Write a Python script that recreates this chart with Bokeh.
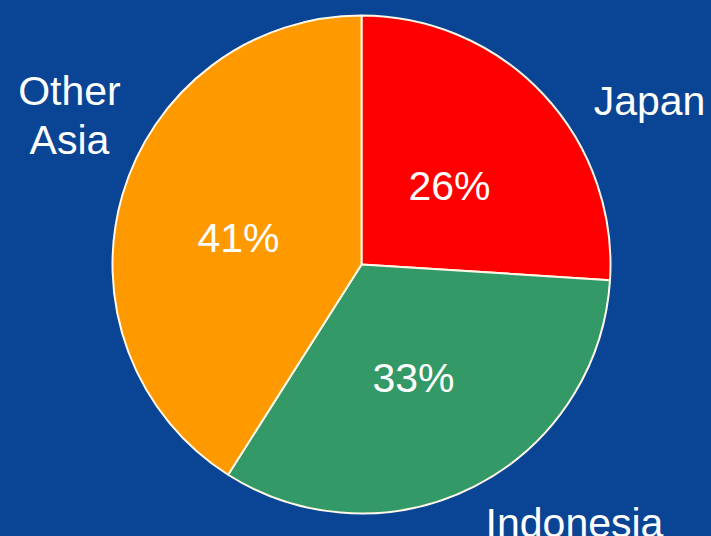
import math
from bokeh.plotting import figure
from bokeh.models import ColumnDataSource, Range1d
from bokeh.core.properties import value
from bokeh.embed import file_html
from bokeh.resources import INLINE

# ---- data ----
regions = ["Japan", "Indonesia", "Other Asia"]
shares = [26, 33, 41]
colors = ["#FF0000", "#339966", "#FF9900"]
display_lines = [["Japan"], ["Indonesia"], ["Other", "Asia"]]

BG = "#0A4595"
W, H = 711, 536
CX, CY, R = 361, 536 - 264, 249
TEXT_SHIFT = 13  # renderer baseline correction (px)

# wedge angles (clockwise from 12 o'clock)
total = sum(shares)
starts, ends = [], []
a = math.pi / 2
for s in shares:
    starts.append(a)
    a -= 2 * math.pi * s / total
    ends.append(a)

p = figure(width=W, height=H, output_backend="svg", toolbar_location=None,
           x_range=Range1d(0, W), y_range=Range1d(0, H), min_border=0)
p.axis.visible = False
p.grid.visible = False
p.outline_line_color = None
p.background_fill_color = BG
p.border_fill_color = BG

src = ColumnDataSource(dict(x=[CX] * 3, y=[CY] * 3, start=starts, end=ends,
                            color=colors))
p.wedge(x="x", y="y", radius=R, start_angle="start", end_angle="end",
        direction="clock", fill_color="color", line_color="#FFF8E8",
        line_width=2, source=src)

# percentage labels (layout positions in page px, baseline)
pct_pos = [(449, 198), (413, 390), (238, 250)]
psrc = ColumnDataSource(dict(
    x=[px for px, py in pct_pos],
    y=[H - py + TEXT_SHIFT for px, py in pct_pos],
    t=[f"{s}%" for s in shares]))
p.text(x="x", y="y", text="t", source=psrc, text_color="white",
       text_font=value("Liberation Sans"), text_font_size="41px",
       text_align="center", text_baseline="alphabetic")

# outer category labels (first-line baseline positions, 49px line step)
name_pos = [(649, 113), (574, 535), (69, 103)]
nx, ny, nt = [], [], []
for (px, py), lines in zip(name_pos, display_lines):
    for i, ln in enumerate(lines):
        nx.append(px)
        ny.append(H - (py + 49 * i) + TEXT_SHIFT)
        nt.append(ln)
nsrc = ColumnDataSource(dict(x=nx, y=ny, t=nt))
p.text(x="x", y="y", text="t", source=nsrc, text_color="white",
       text_font=value("Liberation Sans"), text_font_size="41px",
       text_align="center", text_baseline="alphabetic")

html = file_html(p, INLINE)
html = html.replace("</head>",
                    f"<style>html, body {{ background: {BG} !important; margin: 0 !important; overflow: hidden; }}</style></head>", 1)
open("out.html", "w").write(html)
